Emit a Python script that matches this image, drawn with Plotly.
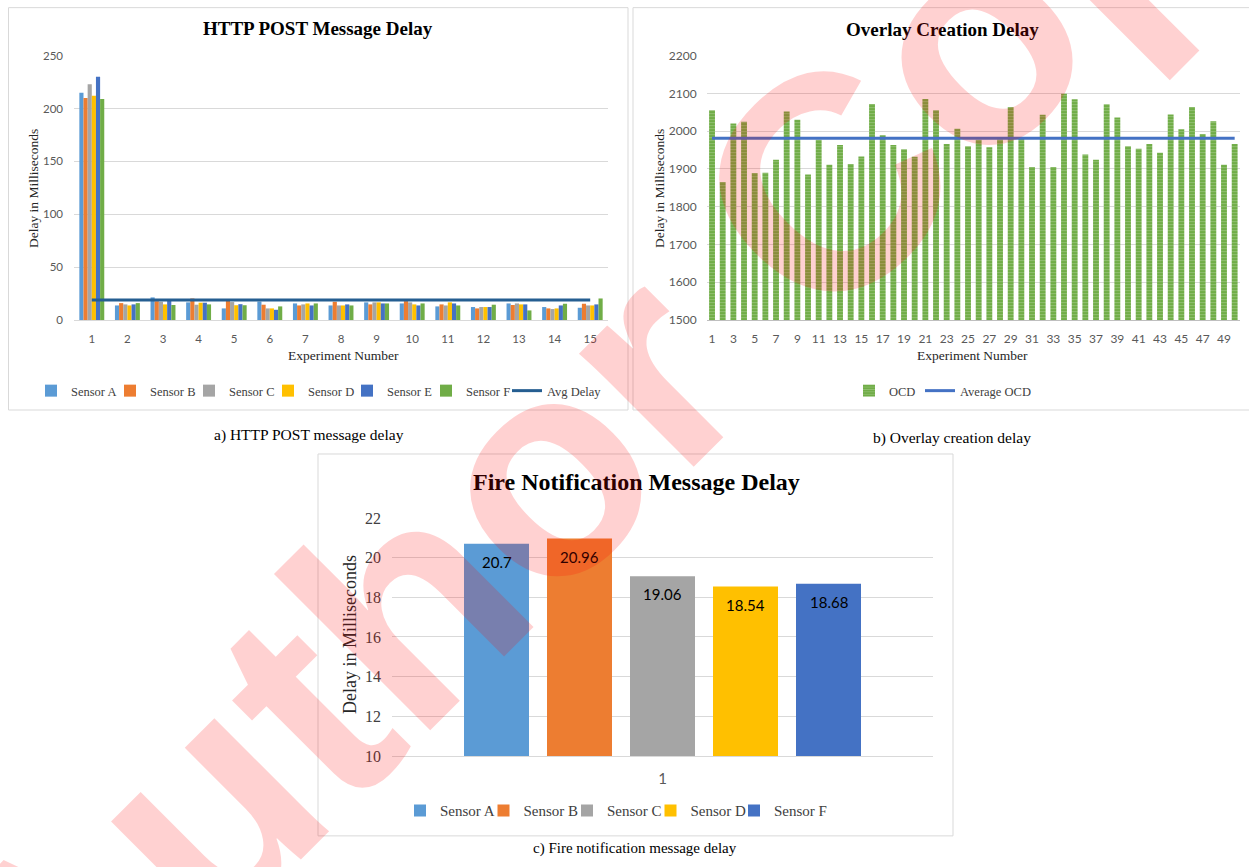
import plotly.graph_objects as go

# figure fills the 1249-wide page; the page body margin is removed after plotting
FW, FH = 1249, 867
KY = 867 / 883   # vertical squeeze observed in the photographed page
TOP = 8          # vertical offset observed in the photographed page

# ---------------- data ----------------
# a) HTTP POST message delay
experiments_a = list(range(1, 16))
sensor_names_a = ["Sensor A", "Sensor B", "Sensor C", "Sensor D", "Sensor E", "Sensor F"]
sensor_a = [215, 13.8, 21.4, 16.7, 11, 17.5, 15.7, 13.8, 16.7, 15.7, 12.9, 12.3, 15.7, 12.3, 11.6]
sensor_b = [210, 16, 17.8, 20.4, 18, 14.5, 13.8, 17.3, 14.8, 17.9, 14.8, 11, 14.2, 11, 15.4]
sensor_c = [223, 14.8, 17.3, 14.5, 17, 11, 14.8, 13.8, 16.7, 16.7, 13.8, 12.3, 15.7, 10.4, 13.8]
sensor_d = [212, 13.8, 14.8, 16.4, 14, 11, 15.7, 13.8, 16.7, 14.8, 16.7, 12.3, 14.8, 11, 13.8]
sensor_e = [230, 14.8, 18.5, 16.4, 15, 9.7, 13.8, 14.8, 15.7, 13.8, 15.7, 12.3, 14.8, 13.8, 14.8]
sensor_f = [209, 16, 14.2, 14.8, 14, 12.9, 15.7, 13.8, 15.7, 15.7, 13.8, 14.5, 9.1, 15.4, 20.4]
avg_delay = [18.9, 18.9, 18.9, 18.9, 18.9, 18.9, 18.9, 18.9, 18.9, 18.9, 18.9, 18.9, 18.9, 18.9, 18.9]
ticks_a = [0, 50, 100, 150, 200, 250]

# b) Overlay creation delay
experiments_b = list(range(1, 51))
ocd = [2055, 1865, 2020, 2025, 1889, 1890, 1924, 2052, 2030, 1885,
       1977, 1911, 1963, 1913, 1933, 2072, 1989, 1963, 1952, 1932,
       2085, 2055, 1966, 2006, 1960, 1977, 1957, 1978, 2064, 1982,
       1905, 2043, 1905, 2099, 2084, 1938, 1924, 2071, 2036, 1960,
       1953, 1966, 1943, 2044, 2005, 2064, 1992, 2026, 1911, 1966]
average_ocd = [1981, 1981, 1981, 1981, 1981, 1981, 1981, 1981, 1981, 1981,
               1981, 1981, 1981, 1981, 1981, 1981, 1981, 1981, 1981, 1981,
               1981, 1981, 1981, 1981, 1981, 1981, 1981, 1981, 1981, 1981,
               1981, 1981, 1981, 1981, 1981, 1981, 1981, 1981, 1981, 1981,
               1981, 1981, 1981, 1981, 1981, 1981, 1981, 1981, 1981, 1981]
ticks_b_x = list(range(1, 50, 2))

# c) Fire notification message delay
category_c = ["1"]
sensor_names_c = ["Sensor A", "Sensor B", "Sensor C", "Sensor D", "Sensor F"]
fire_delay = [20.7, 20.96, 19.06, 18.54, 18.68]

colors_a = ["#5B9BD5", "#ED7D31", "#A5A5A5", "#FFC000", "#4472C4", "#70AD47"]
colors_c = ["#5B9BD5", "#ED7D31", "#A5A5A5", "#FFC000", "#4472C4"]

SERIF = "Liberation Serif"
SANS = "Lato"
TICKC = "#595959"
GRID = "#D9D9D9"


def px(x):
    return x / FW


def py(y):
    yf = y / KY - TOP
    return 1 - yf / FH


fig = go.Figure()

# ---------- panel a ----------
series_a = [sensor_a, sensor_b, sensor_c, sensor_d, sensor_e, sensor_f]
legw_a = [34, 34, 34, 34, 34, 36]
for name, vals, col, lw in zip(sensor_names_a, series_a, colors_a, legw_a):
    fig.add_trace(go.Bar(x=experiments_a, y=vals, name=name, marker=dict(color=col, line=dict(width=0)),
                         xaxis="x", yaxis="y", legend="legend", legendwidth=lw))
fig.add_trace(go.Scatter(x=experiments_a, y=avg_delay, name="Avg Delay", mode="lines",
                         line=dict(color="#255E91", width=3), xaxis="x", yaxis="y",
                         legend="legend", legendwidth=62))

# ---------- panel b ----------
fig.add_trace(go.Bar(x=experiments_b, y=ocd, name="OCD", width=0.55,
                     marker=dict(color="#70AD47", line=dict(width=0),
                                 pattern=dict(shape="-", fgcolor="rgba(255,255,255,0.45)", size=3,
                                              solidity=0.35, fillmode="overlay")),
                     xaxis="x2", yaxis="y2", legend="legend2", legendwidth=26))
fig.add_trace(go.Scatter(x=experiments_b, y=average_ocd, name="Average OCD", mode="lines",
                         line=dict(color="#4472C4", width=3), xaxis="x2", yaxis="y2",
                         legend="legend2", legendwidth=80))

# ---------- panel c ----------
bw_c = 65 / 541
pitch_c = 83 / 541
for i, (name, val, col) in enumerate(zip(sensor_names_c, fire_delay, colors_c)):
    fig.add_trace(go.Bar(x=category_c, y=[val], name=name, marker=dict(color=col, line=dict(width=0)),
                         width=bw_c, offset=(i - 2) * pitch_c - bw_c / 2,
                         xaxis="x3", yaxis="y3", legend="legend3",
                         legendwidth=(38.5 if i < 4 else 64)))
    fig.add_annotation(text=f"{val:g}", x=(i - 2) * pitch_c, y=val, xref="x3", yref="y3",
                       showarrow=False, xanchor="center", yanchor="middle", yshift=-18,
                       font=dict(family=SANS, size=15, color="#000000"))

fig.update_layout(
    width=FW, height=FH,
    margin=dict(l=0, r=0, t=0, b=0),
    paper_bgcolor="white", plot_bgcolor="rgba(0,0,0,0)",
    barmode="group", bargap=0.3, bargroupgap=0,
    showlegend=True,
    xaxis=dict(domain=[px(74), px(608)], range=[0.5, 15.5], tickvals=experiments_a,
               showgrid=False, zeroline=False, showline=True, linecolor=GRID, linewidth=1,
               ticks="", ticklabelstandoff=8, tickfont=dict(family=SANS, size=11.5, color=TICKC),
               anchor="y"),
    yaxis=dict(domain=[py(321), py(56)], range=[0, 250.5], tickvals=ticks_a,
               showgrid=True, gridcolor=GRID, gridwidth=1, zeroline=False, showline=False,
               ticks="", ticklabelstandoff=10, tickfont=dict(family=SANS, size=11.5, color=TICKC),
               anchor="x"),
    xaxis2=dict(domain=[px(706.7), px(1240)], range=[0.5, 50.5], tickvals=ticks_b_x,
                showgrid=False, zeroline=False, showline=True, linecolor="#BFBFBF", linewidth=1,
                ticks="", ticklabelstandoff=8, tickfont=dict(family=SANS, size=12, color=TICKC),
                anchor="y2"),
    yaxis2=dict(domain=[py(321), py(56)], range=[1500, 2201], dtick=100,
                showgrid=True, gridcolor=GRID, gridwidth=1, zeroline=False, showline=False,
                ticks="", ticklabelstandoff=9, tickfont=dict(family=SANS, size=12, color=TICKC),
                anchor="x2"),
    xaxis3=dict(domain=[px(392), px(933)], type="category", range=[-0.5, 0.5],
                showgrid=False, zeroline=False, showline=True, linecolor=GRID, linewidth=1,
                ticks="", ticklabelstandoff=9, tickfont=dict(family=SANS, size=15, color=TICKC),
                anchor="y3"),
    yaxis3=dict(domain=[py(757), py(518)], range=[10, 22.05], dtick=2,
                showgrid=True, gridcolor=GRID, gridwidth=1, zeroline=False, showline=False,
                ticks="", ticklabelstandoff=10, tickfont=dict(family=SERIF, size=16, color="#404040"),
                anchor="x3"),
    legend=dict(orientation="h", x=px(31), xanchor="left", y=py(392), yanchor="middle",
                font=dict(family=SERIF, size=12.5, color="#404040"), bgcolor="rgba(0,0,0,0)",
                itemwidth=30, traceorder="normal"),
    legend2=dict(orientation="h", x=px(849), xanchor="left", y=py(392), yanchor="middle",
                 font=dict(family=SERIF, size=12.5, color="#404040"), bgcolor="rgba(0,0,0,0)",
                 itemwidth=30, traceorder="normal"),
    legend3=dict(orientation="h", x=px(400), xanchor="left", y=py(812), yanchor="middle",
                 font=dict(family=SERIF, size=15, color="#404040"), bgcolor="rgba(0,0,0,0)",
                 itemwidth=30, traceorder="normal"),
)

# panel borders
for (x0, y0, x1, y1) in [(8.5, 8.5, 628, 411), (633, 8.5, 1262, 411), (318, 455, 953, 837)]:
    fig.add_shape(type="rect", xref="paper", yref="paper", x0=px(x0), x1=px(x1), y0=py(y1), y1=py(y0),
                  line=dict(color=GRID, width=1), fillcolor="rgba(0,0,0,0)", layer="below")


def note(text, x, y, size, family=SERIF, bold=False, angle=0, color="#000000", yanchor="middle",
         ypaper=None, pad=1):
    fig.add_annotation(text=text, x=px(x), y=(py(y) if ypaper is None else ypaper), xref="paper", yref="paper",
                       showarrow=False, xanchor="center", yanchor=yanchor, textangle=angle, borderpad=pad,
                       font=dict(family=family, size=size, color=color, weight="bold" if bold else "normal"))


note("HTTP POST Message Delay", 318, 29, 19, bold=True)
note("Overlay Creation Delay", 942, 30, 19, bold=True)
note("Fire Notification Message Delay", 636, 483, 24, bold=True)
note("Delay in Milliseconds", 33, 190, 13.5, angle=-90, color="#262626")
note("Delay in Milliseconds", 659, 190, 13.5, angle=-90, color="#262626")
note("Delay in Milliseconds", 350, 636, 18, angle=-90, color="#262626")
note("Experiment Number", 343, 356, 13.5, color="#262626")
note("Experiment Number", 972, 356, 13.5, color="#262626")
note("a) HTTP POST message delay", 309, 436, 15.5)
note("b) Overlay creation delay", 952, 439, 15.5)
note("c) Fire notification message delay", 635, 857, 15, yanchor="bottom", ypaper=0.0, pad=0)

# watermark
fig.add_annotation(text="Author Copy", x=px(635), y=py(378), xref="paper", yref="paper", showarrow=False,
                   xanchor="center", yanchor="middle", textangle=-45,
                   font=dict(family="Liberation Sans", size=305, color="rgba(255,0,0,0.18)", weight="bold"))

fig.write_html("out.html", config={"displayModeBar": False},
               post_script="document.body.style.margin='0px';document.body.style.overflow='hidden';")
